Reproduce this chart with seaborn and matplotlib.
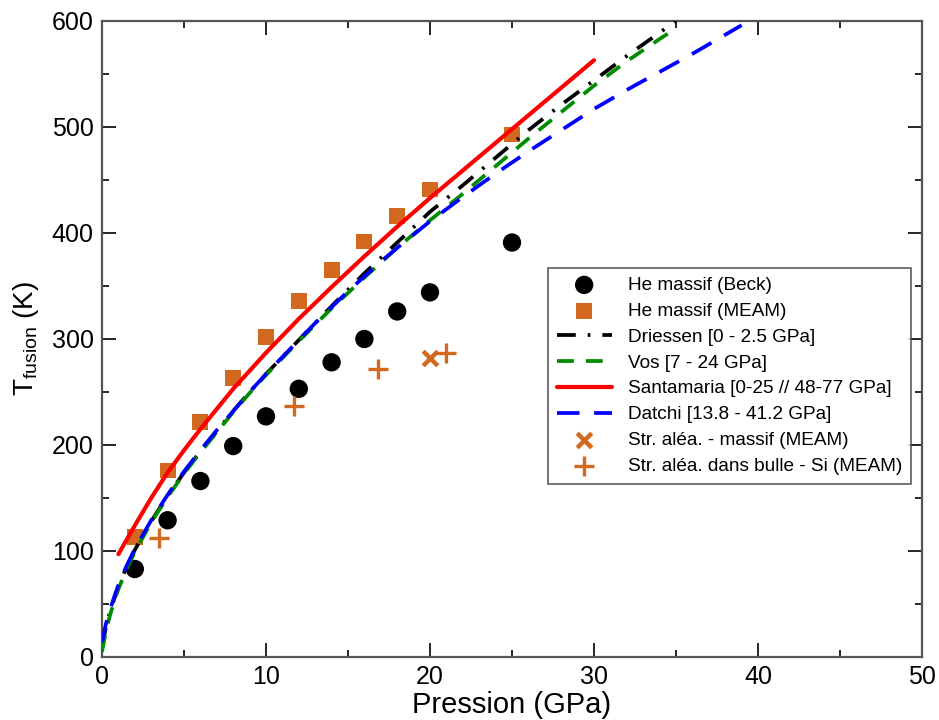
import matplotlib
matplotlib.use("Agg")
import matplotlib.pyplot as plt
from matplotlib.ticker import MultipleLocator
import seaborn as sns

sns.set_theme(style="ticks")
plt.rcParams["font.family"] = ["Liberation Sans", "DejaVu Sans"]
plt.rcParams["mathtext.fontset"] = "custom"
plt.rcParams["mathtext.rm"] = "Liberation Sans"
plt.rcParams["text.color"] = "black"
plt.rcParams["axes.labelcolor"] = "black"
plt.rcParams["xtick.color"] = "black"
plt.rcParams["ytick.color"] = "black"

# points
beck_p = [2, 4, 6, 8, 10, 12, 14, 16, 18, 20, 25]
beck_t = [83, 129, 166, 199, 227, 253, 278, 300, 326, 344, 391]
meam_p = [2, 4, 6, 8, 10, 12, 14, 16, 18, 20, 25]
meam_t = [113, 176, 222, 263, 302, 336, 365, 392, 416, 441, 493]
alea_p = [20]
alea_t = [282]
bulle_p = [3.5, 11.7, 16.8, 21.0]
bulle_t = [112, 237, 272, 287]

# curves
driessen_p = [0, 0.25, 0.5, 0.75, 1, 1.5, 2, 3, 4, 5, 6, 7, 8, 9, 10, 12, 14,
              16, 18, 20, 22, 24, 26, 28, 30, 32, 34, 35]
driessen_t = [10, 29, 43, 55, 66, 85, 101, 128, 152, 174, 194, 213, 232, 250,
              267, 299, 331, 362, 391, 420, 445, 471, 497, 521, 544, 567, 589, 600]
vos_p = [0, 0.25, 0.5, 0.75, 1, 1.5, 2, 3, 4, 5, 6, 7, 8, 9, 10, 12, 14,
         16, 18, 20, 22, 24, 26, 28, 30, 32, 34, 35]
vos_t = [5, 25, 40, 53, 64, 83, 99, 127, 151, 173, 193, 212, 231, 249, 266,
         298, 329, 358, 386, 412, 437, 463, 489, 514, 539, 562, 583, 593]
santa_p = [1, 2, 3, 4, 5, 6, 8, 10, 12, 14, 16, 18, 20, 22, 24, 26, 28, 30]
santa_t = [97, 124, 150, 174, 195, 215, 253, 287, 319, 349, 378, 406, 433,
           459, 485, 511, 537, 563]
datchi_p = [0, 0.25, 0.5, 0.75, 1, 1.5, 2, 3, 4, 5, 6, 7, 8, 9, 10, 11, 12,
            13, 14, 15, 16, 17, 18, 20, 22, 24, 26, 28, 30, 32, 34, 36, 38, 39]
datchi_t = [14, 32, 45, 57, 68, 86, 102, 129, 153, 175, 195, 214, 232, 250,
            267, 283, 299, 315, 330, 345, 359, 373, 386, 411, 434, 456, 477,
            497, 517, 535, 552, 569, 587, 596]

orange = "#d2691e"

fig = plt.figure(figsize=(9.39, 7.2), dpi=100)
ax = fig.add_axes([102 / 939, 1 - 657 / 720, 820 / 939, 636 / 720])

sns.scatterplot(x=beck_p, y=beck_t, ax=ax, marker="o", s=175, color="black",
                edgecolor="none", label="He massif (Beck)", zorder=2)
sns.scatterplot(x=meam_p, y=meam_t, ax=ax, marker="s", s=130, color=orange,
                edgecolor="none", label="He massif (MEAM)", zorder=2)

lw = 2.7
sns.lineplot(x=driessen_p, y=driessen_t, ax=ax, color="black", lw=lw,
             linestyle=(0, (5, 3.2, 0.7, 3.2)), label="Driessen [0 - 2.5 GPa]",
             estimator=None, zorder=3)
sns.lineplot(x=vos_p, y=vos_t, ax=ax, color="#008c00", lw=lw,
             linestyle=(0, (4.5, 3.2)), label="Vos [7 - 24 GPa]",
             estimator=None, zorder=3)
sns.lineplot(x=santa_p, y=santa_t, ax=ax, color="#ff0000", lw=3.0,
             label="Santamaria [0-25 // 48-77 GPa]", estimator=None, zorder=3)
sns.lineplot(x=datchi_p, y=datchi_t, ax=ax, color="#0000ff", lw=lw,
             linestyle=(0, (6, 3.9)), label="Datchi [13.8 - 41.2 GPa]",
             estimator=None, zorder=3)

sns.scatterplot(x=alea_p, y=alea_t, ax=ax, marker="x", s=110, color=orange,
                linewidth=3.2, label="Str. aléa. - massif (MEAM)", zorder=4)
sns.scatterplot(x=bulle_p, y=bulle_t, ax=ax, marker="+", s=200, color=orange,
                linewidth=2.4, label="Str. aléa. dans bulle - Si (MEAM)", zorder=4)

ax.set_xlim(0, 50)
ax.set_ylim(0, 600)
ax.xaxis.set_major_locator(MultipleLocator(10))
ax.xaxis.set_minor_locator(MultipleLocator(5))
ax.yaxis.set_major_locator(MultipleLocator(100))
ax.yaxis.set_minor_locator(MultipleLocator(50))
ax.tick_params(which="both", direction="in", top=True, right=True,
               color="black", width=1.2)
ax.tick_params(which="major", length=10, labelsize=18, pad=6)
ax.tick_params(which="minor", length=5)
for s in ax.spines.values():
    s.set_color("#555555")
    s.set_linewidth(1.6)

ax.set_xlabel("Pression (GPa)", fontsize=21, labelpad=1)
ax.set_ylabel(r"T$_{\mathrm{fusion}}$ (K)", fontsize=20, labelpad=8)

leg = ax.legend(loc="upper left", bbox_to_anchor=(548 / 939, 1 - 268 / 720),
                bbox_transform=fig.transFigure, fontsize=13.7, frameon=True,
                fancybox=False, edgecolor="#333333", handlelength=2.9,
                labelspacing=0.45, borderpad=0.45, handletextpad=0.85,
                borderaxespad=0)
leg.get_frame().set_linewidth(1.2)

fig.savefig("out.png", dpi=100)
